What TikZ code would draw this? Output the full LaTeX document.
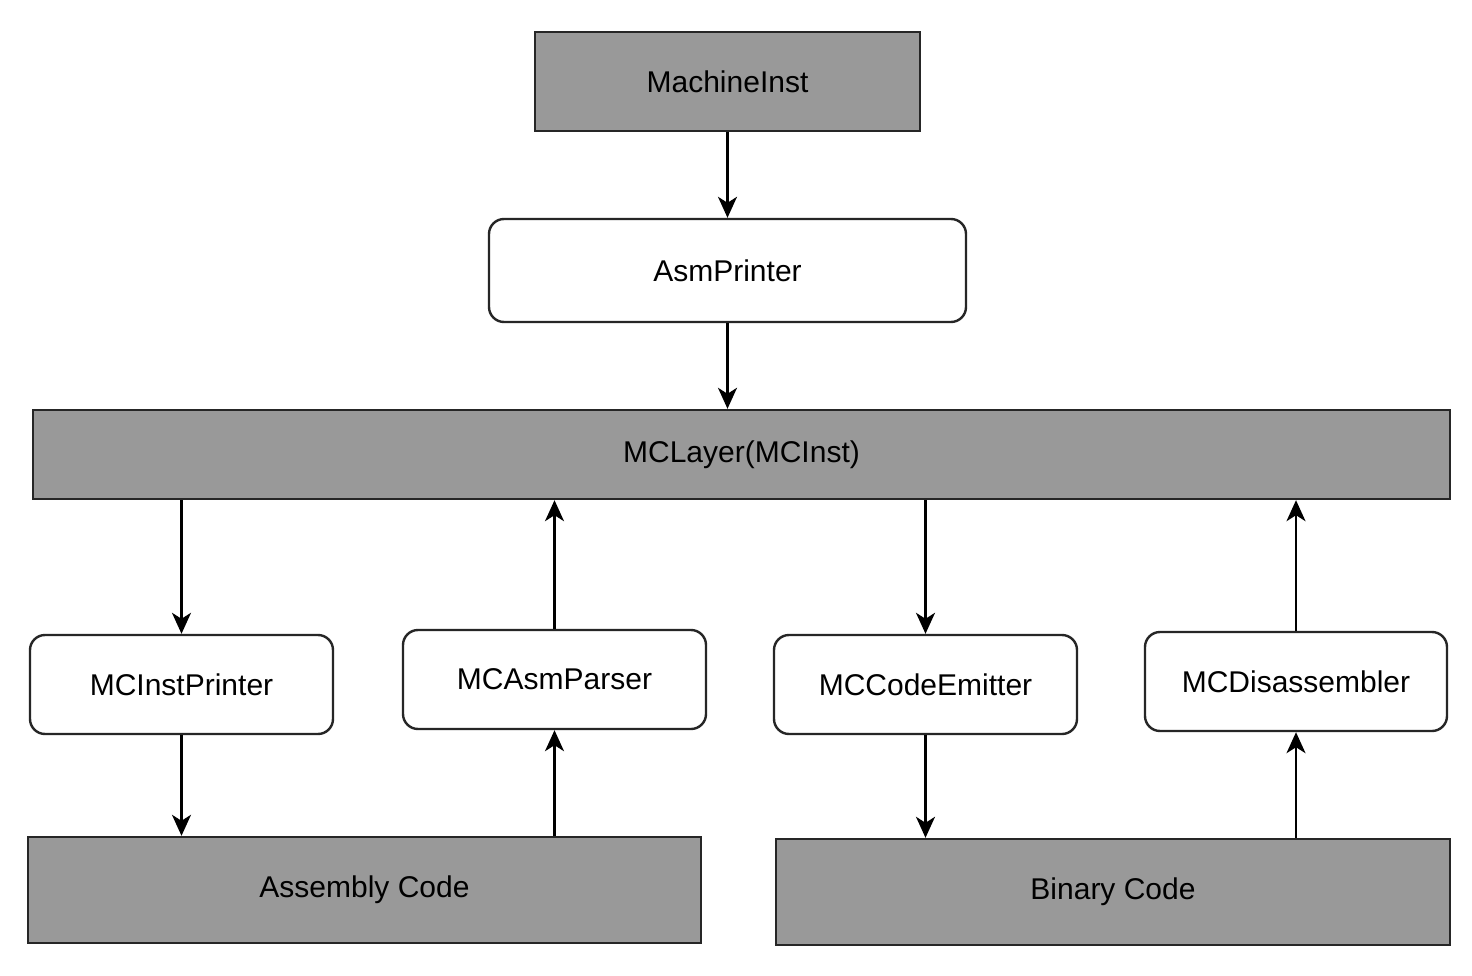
\documentclass[tikz,border=0pt]{standalone}
\usepackage{fontspec}
\setmainfont{Liberation Sans}
\usetikzlibrary{arrows.meta}
\definecolor{boxgray}{RGB}{153,153,153}
\newcommand{\lbl}[1]{\raisebox{-3pt}{#1}}
\begin{document}
\begin{tikzpicture}[x=1pt,y=-1pt,
  base/.style={draw=black!85, line width=2.4pt, inner sep=0pt, font=\fontsize{30}{34}\selectfont, text=black},
  graybox/.style={base, fill=boxgray},
  roundbox/.style={base, fill=white, rounded corners=15pt},
  arr/.style={line width=2.2pt, -{Stealth[length=21pt, width=19pt, inset=6pt]}}]
\useasboundingbox (0,0) rectangle (1472,976);
\fill[white] (0,0) rectangle (1472,976);
\node[graybox, minimum width=385pt, minimum height=99pt] (mi) at (727.5,81.5) {\lbl{MachineInst}};
\node[roundbox, minimum width=477pt, minimum height=103pt] (ap) at (727.5,270.5) {\lbl{AsmPrinter}};
\node[graybox, minimum width=1417pt, minimum height=89pt] (mcl) at (741.5,454.5) {\lbl{MCLayer(MCInst)}};
\node[roundbox, minimum width=303pt, minimum height=99pt] (ip) at (181.5,684.5) {\lbl{MCInstPrinter}};
\node[roundbox, minimum width=303pt, minimum height=99pt] (apar) at (554.5,679.5) {\lbl{MCAsmParser}};
\node[roundbox, minimum width=303pt, minimum height=99pt] (ce) at (925.5,684.5) {\lbl{MCCodeEmitter}};
\node[roundbox, minimum width=302pt, minimum height=99pt] (dis) at (1296,681.5) {\lbl{MCDisassembler}};
\node[graybox, minimum width=673pt, minimum height=106pt] (asm) at (364.5,890) {\lbl{Assembly Code}};
\node[graybox, minimum width=674pt, minimum height=106pt] (bin) at (1113,892) {\lbl{Binary Code}};
\draw[arr] (mi.south) -- (ap.north);
\draw[arr] (ap.south) -- (ap.south |- mcl.north);
\draw[arr] (mcl.south -| ip.north) -- (ip.north);
\draw[arr] (apar.north) -- (apar.north |- mcl.south);
\draw[arr] (mcl.south -| ce.north) -- (ce.north);
\draw[arr] (dis.north) -- (dis.north |- mcl.south);
\draw[arr] (ip.south) -- (ip.south |- asm.north);
\draw[arr] (asm.north -| apar.south) -- (apar.south);
\draw[arr] (ce.south) -- (ce.south |- bin.north);
\draw[arr] (bin.north -| dis.south) -- (dis.south);
\end{tikzpicture}
\end{document}
